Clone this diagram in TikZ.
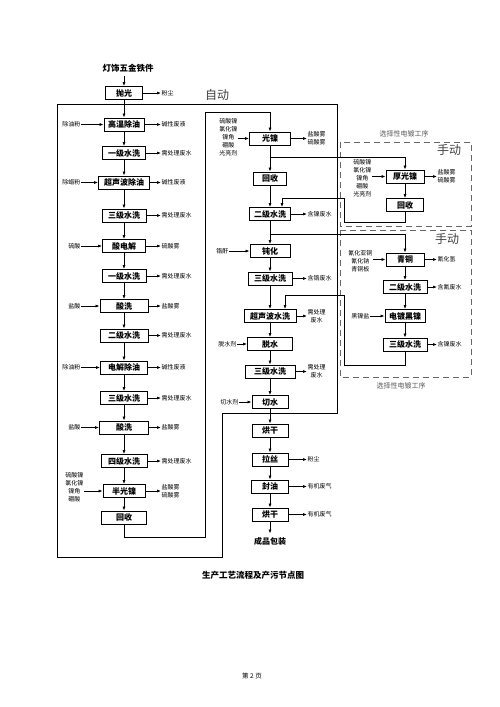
\documentclass[tikz,border=0pt]{standalone}
\usepackage{fontspec}
\setmainfont{Noto Sans CJK SC}
\usetikzlibrary{arrows.meta}
\begin{document}
\begin{tikzpicture}[x=1pt,y=-1pt,
  bx/.style={draw,line width=0.8pt,minimum height=13pt,inner sep=0pt,font=\fontsize{8}{9}\selectfont\bfseries},
  lab/.style={font=\fontsize{6}{8}\selectfont,inner sep=0.5pt,align=center},
  ar/.style={-{Latex[length=4pt,width=3pt]},line width=0.7pt},
  ln/.style={line width=0.8pt},
  dsh/.style={dash pattern=on 6pt off 4pt,line width=0.8pt,draw=black!60},
  big/.style={font=\fontsize{12}{12}\selectfont,text=black!75},
  sel/.style={font=\fontsize{7}{8}\selectfont,text=black!65}]
\fill[white] (0,0) rectangle (500,707);
\useasboundingbox (0,0) rectangle (500,707);

% ---------- left column ----------
\node[font=\fontsize{8.5}{9}\selectfont\bfseries] (t0) at (128,68) {灯饰五金铁件};
\node[bx,minimum width=37pt] (L0) at (124,93) {抛光};
\foreach \n/\y/\w/\t in {L1/124.5/40/高温除油, L2/153/43/一级水洗, L3/182.5/51/超声波除油,
  L4/215.5/44/三级水洗, L5/246/43/酸电解, L6/276/44/一级水洗, L7/306/48/酸洗,
  L8/335.5/48/二级水洗, L9/367.5/47/电解除油, L10/398/47/三级水洗, L11/427.5/49/酸洗,
  L12/461/46/四级水洗, L13/491/42/半光镍, L14/517.5/45/回收}
  \node[bx,minimum width=\w pt] (\n) at (124,\y) {\t};
\draw[ar] (L0.north |- t0.south) -- (L0.north);
\foreach \a/\b in {L0/L1,L1/L2,L2/L3,L3/L4,L4/L5,L5/L6,L6/L7,L7/L8,L8/L9,L9/L10,L10/L11,L11/L12,L12/L13,L13/L14}
  \draw[ar] (\a) -- (\b);
\foreach \n/\t in {L0/粉尘, L1/碱性废液, L2/需处理废水, L3/碱性废液, L4/需处理废水, L5/硫酸雾,
  L6/需处理废水, L7/盐酸雾, L8/需处理废水, L9/碱性废液, L10/需处理废水, L11/盐酸雾, L12/需处理废水}
  {\node[lab,anchor=west] (\n-r) at (161,0 |- \n) {\t};
   \draw[ar] (\n.east) -- (\n-r.west);}
\node[lab,anchor=west] (L13-r) at (161,491) {盐酸雾\\硫酸雾};
\draw[ar] (L13.east) -- (L13-r.west);
\foreach \n/\t in {L1/除油粉, L3/除蜡粉, L5/硫酸, L7/盐酸, L9/除油粉, L11/盐酸}
  {\node[lab,anchor=east] (\n-l) at (81,0 |- \n) {\t};
   \draw[ar] (\n-l.east) -- (\n.west);}
\node[lab,anchor=east] (L13-l) at (84,487) {硫酸镍\\氯化镍\\镍角\\硼酸};
\draw[ar] (L13-l.east |- L13) -- (L13.west);

% ---------- borders ----------
\draw[ln] (57,104) -- (337,104) -- (337,413) -- (222,413) -- (222,557) -- (57,557) -- cycle;
\node[big] (zd) at (217,95) {自动};

% ---------- middle column ----------
\foreach \n/\y/\w/\t in {M1/138.5/41/光镍, M2/178.5/33/回收, M3/214/41/二级水洗, M4/251/40/钝化,
  M5/278.5/44/三级水洗, M6/316/52/超声波水洗, M7/344/45/脱水, M8/371.5/50/三级水洗,
  M9/402/36/切水, M10/430.5/36/烘干, M11/459.5/36/拉丝, M12/486.5/37/封油, M13/514.5/36/烘干}
  \node[bx,minimum width=\w pt] (\n) at (270,\y) {\t};
\foreach \a/\b in {M1/M2,M2/M3,M3/M4,M4/M5,M5/M6,M6/M7,M7/M8,M8/M9,M9/M10,M10/M11,M11/M12,M12/M13}
  \draw[ar] (\a) -- (\b);
\node[font=\fontsize{8}{9}\selectfont\bfseries] (cp) at (270,541) {成品包装};
\draw[ar] (M13) -- (cp);
\foreach \n/\t in {M3/含镍废水, M5/含铬废水, M11/粉尘, M12/有机废气, M13/有机废气}
  {\node[lab,anchor=west] (\n-r) at (307,0 |- \n) {\t};
   \draw[ar] (\n.east) -- (\n-r.west);}
\foreach \n/\t in {M1/盐酸雾\\硫酸雾, M6/需处理\\废水, M8/需处理\\废水}
  {\node[lab,anchor=west] (\n-r) at (307,0 |- \n) {\t};
   \draw[ar] (\n.east) -- (\n-r.west |- \n);}
\node[lab,anchor=east] (M1-l) at (238,137.5) {硫酸镍\\氯化镍\\镍角\\硼酸\\光亮剂};
\draw[ar] (M1-l.east |- M1) -- (M1.west);
\foreach \n/\x/\t in {M4/229/铬酐, M7/237/脱水剂, M9/239/切水剂}
  {\node[lab,anchor=east] (\n-l) at (\x,0 |- \n) {\t};
   \draw[ar] (\n-l.east) -- (\n.west);}

% return loop from left column
\draw[ar] (L14.south) -- (124,537) -- (205,537) -- (205,112) -- (270,112) -- (M1.north);

% ---------- right panels ----------
\draw[dsh] (340,142) rectangle (471,226);
\draw[dsh] (340,230) rectangle (471,377);
\node[sel] (s1) at (404,134) {选择性电镀工序};
\node[sel] (s2) at (401,386) {选择性电镀工序};
\node[big] (h1) at (449,150) {手动};
\node[big] (h2) at (447,239) {手动};

\foreach \n/\y/\w/\t in {R1/176.5/38/厚光镍, R2/205/37/回收, R3/259.5/38/青铜,
  R4/287/44/二级水洗, R5/316/40/电镀黑镍, R6/344.5/44/三级水洗}
  \node[bx,minimum width=\w pt] (\n) at (405,\y) {\t};
\foreach \a/\b in {R1/R2,R3/R4,R4/R5,R5/R6}
  \draw[ar] (\a) -- (\b);
\foreach \n/\t in {R3/氰化氢, R4/含氰废水, R6/含镍废水}
  {\node[lab,anchor=west] (\n-r) at (437,0 |- \n) {\t};
   \draw[ar] (\n.east) -- (\n-r.west);}
\node[lab,anchor=west] (R1-r) at (437,176) {盐酸雾\\硫酸雾};
\draw[ar] (R1.east) -- (R1-r.west |- R1);
\node[lab,anchor=east] (R1-l) at (372,178) {硫酸镍\\氯化镍\\镍角\\硼酸\\光亮剂};
\draw[ar] (R1-l.east |- R1) -- (R1.west);
\node[lab,anchor=east] (R3-l) at (373,261) {氰化亚铜\\氰化钠\\青铜板};
\draw[ar] (R3-l.east |- R3) -- (R3.west);
\node[lab,anchor=east] (R5-l) at (370,316) {黑镍盐};
\draw[ar] (R5-l.east) -- (R5.west);

% branches and returns
\coordinate (b1) at (270,157);
\draw[ar] (b1) -| (R1.north);
\coordinate (b2) at (270,234);
\draw[ar] (b2) -| (R3.north);
\draw[ar] (R2.south) -- (405,222) -- (344,222) -- (344,198) -- (282,198) -- (282,198 |- M3.north);
\draw[ar] (R6.south) -- (405,365) -- (344,365) -- (344,295) -- (285,295) -- (285,295 |- M6.north);

% ---------- caption ----------
\node[font=\fontsize{8.5}{9}\selectfont\bfseries] (cap) at (253,575) {生产工艺流程及产污节点图};
\node[font=\fontsize{6.5}{7}\selectfont] (pg) at (252,676) {第 2 页};
\end{tikzpicture}
\end{document}
